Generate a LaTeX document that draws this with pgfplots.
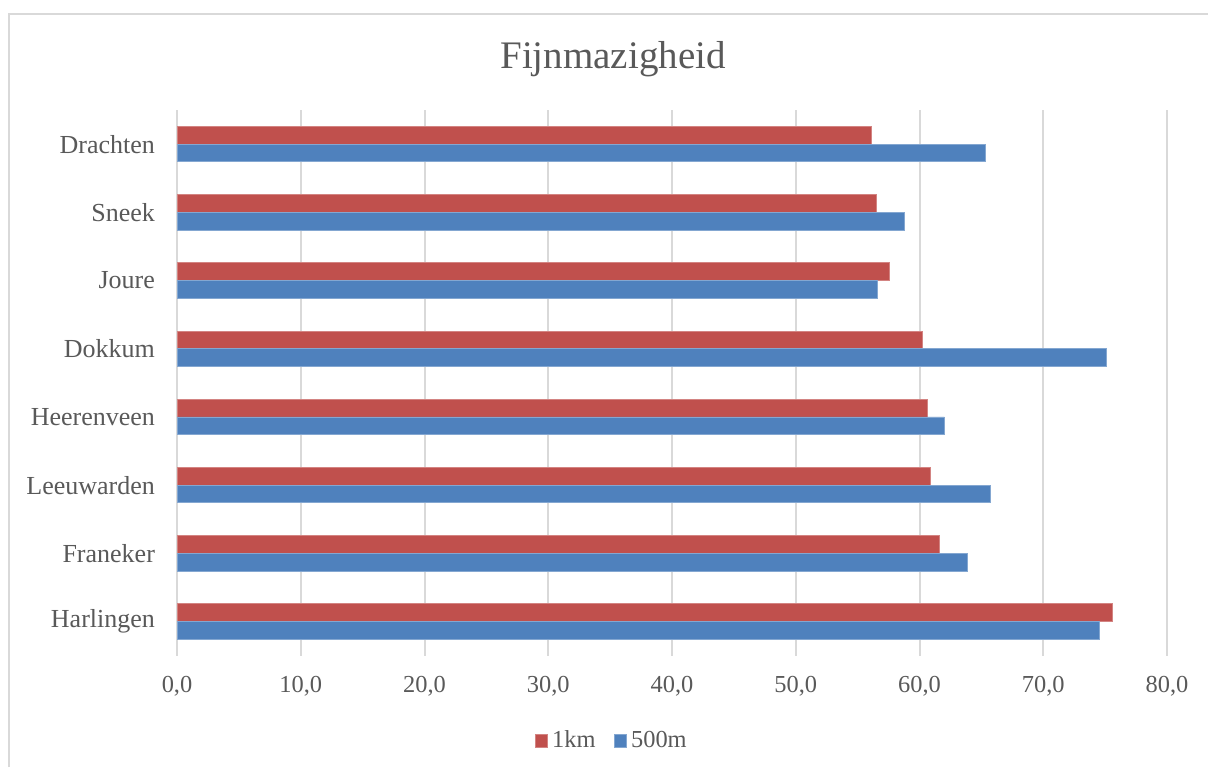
\documentclass[border=0pt]{standalone}
\usepackage{pgfplots}
\pgfplotsset{compat=1.18}
\usepackage{fontspec}
\setmainfont{Liberation Serif}
\definecolor{redbar}{HTML}{C0504D}
\definecolor{bluebar}{HTML}{4F81BD}
\definecolor{txt}{HTML}{595959}
\definecolor{gridc}{HTML}{D9D9D9}
\begin{document}
\begin{tikzpicture}
\path[use as bounding box] (0,0) rectangle (604pt,-383.5pt);
\draw[gridc, line width=1pt] (4.5pt,-383.5pt) -- (4.5pt,-7pt) -- (604pt,-7pt);
\node[anchor=base, text=txt, font=\fontsize{19.5}{22}\selectfont] at (306.5pt,-34pt) {Fijnmazigheid};
\begin{axis}[
  at={(88.5pt,-327.8pt)}, anchor=south west,
  scale only axis, width=495pt, height=272.8pt,
  xmin=0, xmax=80, ymin=-0.5, ymax=7.5,
  xbar, bar width=8.85pt,
  axis line style={draw=none},
  xtick={0,10,...,80},
  ytick={0,...,7},
  yticklabels={Harlingen,Franeker,Leeuwarden,Heerenveen,Dokkum,Joure,Sneek,Drachten},
  major tick length=0pt,
  xmajorgrids, major grid style={gridc, line width=1pt},
  ymajorgrids=false,
  /pgf/number format/.cd, use comma, fixed, fixed zerofill, precision=1, assume math mode=true,
  /pgfplots/.cd,
  xticklabel style={text=txt, font=\fontsize{12.2}{14}\selectfont, yshift=-7pt},
  yticklabel style={text=txt, font=\fontsize{13}{15}\selectfont, xshift=-7.5pt},
  legend columns=2,
  legend style={at={(0.44,-0.156)}, anchor=center, draw=none, fill=none,
    font=\fontsize{12.2}{14}\selectfont, text=txt,
    /tikz/every even column/.append style={column sep=7pt}},
  legend image code/.code={\fill[#1] (0pt,-3.2pt) rectangle (6.4pt,3.2pt);},
]
\addplot[fill=redbar, draw=redbar!70!white, line width=0.4pt, bar shift=4.425pt] coordinates {
  (75.6,0) (61.6,1) (60.85,2) (60.6,3) (60.2,4) (57.6,5) (56.5,6) (56.1,7)
};
\addplot[fill=bluebar, draw=bluebar!70!white, line width=0.4pt, bar shift=-4.425pt] coordinates {
  (74.5,0) (63.9,1) (65.7,2) (62.0,3) (75.1,4) (56.6,5) (58.8,6) (65.3,7)
};
\legend{1km,500m}
\end{axis}
\end{tikzpicture}
\end{document}
